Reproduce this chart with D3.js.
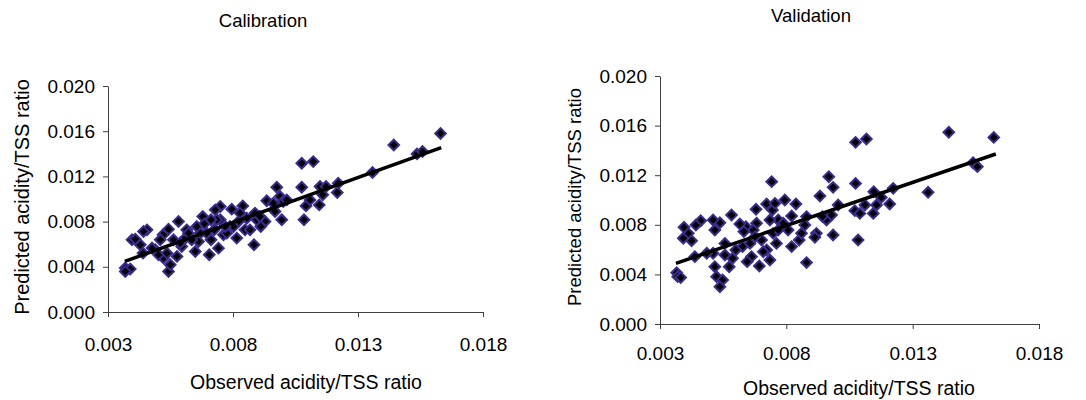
<!DOCTYPE html>
<html>
<head>
<meta charset="utf-8">
<script src="https://cdn.jsdelivr.net/npm/d3@7"></script>
<style>
  body { margin: 0; background: #fff; }
  text { font-family: Arial, "Liberation Sans", sans-serif; fill: #000; }
  .axis path, .axis line { stroke: #404040; }
</style>
</head>
<body>
<div id="chart"></div>
<script>
// tick labels shared by both panels
var xTicks = [0.003, 0.008, 0.013, 0.018]
var yTicks = [0.000, 0.004, 0.008, 0.012, 0.016, 0.020]

// Calibration: observed (x) vs predicted (y)
var calX = [0.0163, 0.01443, 0.01536, 0.01558, 0.01358, 0.01075, 0.01121, 0.01075, 0.01084, 0.01092,
            0.01108, 0.01148, 0.01172, 0.01159, 0.01145, 0.01221, 0.01217, 0.00975, 0.00988, 0.00995,
            0.01001, 0.00935, 0.00968, 0.00928, 0.00911, 0.00884, 0.00888, 0.00855, 0.00839, 0.00795,
            0.00822, 0.00815, 0.00848, 0.00788, 0.00749, 0.00729, 0.00749, 0.00762, 0.00742, 0.00725,
            0.00712, 0.00705, 0.00679, 0.00685, 0.00669, 0.00655, 0.00649, 0.00662, 0.00615, 0.00609,
            0.00582, 0.00595, 0.00576, 0.00562, 0.00542, 0.0052, 0.00509, 0.00522, 0.00542, 0.00549,
            0.00489, 0.00502, 0.00456, 0.00442, 0.0044, 0.00429, 0.00396, 0.00409, 0.00369, 0.00389,
            0.00369, 0.00635, 0.00695, 0.00735, 0.00775, 0.00802, 0.00868, 0.00895, 0.00961, 0.01015,
            0.00476, 0.00536, 0.00589, 0.00622, 0.00712, 0.00769, 0.00828, 0.00908]
var calY = [0.0158, 0.01478, 0.01399, 0.0142, 0.01234, 0.01316, 0.01331, 0.01104, 0.00816, 0.00939,
            0.00992, 0.0111, 0.0111, 0.01037, 0.00948, 0.0114, 0.01057, 0.01104, 0.01022, 0.00816,
            0.00978, 0.00984, 0.00889, 0.00801, 0.00757, 0.00595, 0.00875, 0.0083, 0.00939, 0.0091,
            0.00801, 0.00654, 0.00727, 0.00757, 0.00934, 0.00904, 0.00816, 0.00683, 0.00565, 0.00727,
            0.00639, 0.00507, 0.00845, 0.0078, 0.00698, 0.00757, 0.00536, 0.00624, 0.00727, 0.00654,
            0.00801, 0.0058, 0.00492, 0.00639, 0.00733, 0.00683, 0.00639, 0.00477, 0.00359, 0.00418,
            0.00551, 0.00507, 0.00727, 0.00713, 0.00521, 0.00595, 0.00639, 0.00645, 0.00389, 0.0038,
            0.00359, 0.00639, 0.00698, 0.00816, 0.00698, 0.00757, 0.00727, 0.00816, 0.00963, 0.00992,
            0.00566, 0.00521, 0.0061, 0.00698, 0.00816, 0.00757, 0.00875, 0.00845]
var calTrend = [[0.00367, 0.00448], [0.01633, 0.01455]]

// Validation: observed (x) vs predicted (y)
var valX = [0.01621, 0.01443, 0.01539, 0.01556, 0.01361, 0.01074, 0.01117, 0.01074, 0.01084, 0.01071,
            0.01091, 0.01111, 0.01144, 0.01146, 0.01157, 0.01176, 0.01223, 0.01209, 0.00968, 0.00985,
            0.00933, 0.00985, 0.01005, 0.00959, 0.00979, 0.00919, 0.00913, 0.0088, 0.0088, 0.00873,
            0.00851, 0.00838, 0.00821, 0.00821, 0.00794, 0.00807, 0.00768, 0.00761, 0.00742, 0.00745,
            0.00722, 0.00735, 0.00748, 0.00735, 0.00722, 0.00709, 0.00702, 0.00693, 0.00682, 0.0068,
            0.00669, 0.00662, 0.00656, 0.00645, 0.0064, 0.00616, 0.00627, 0.006, 0.00583, 0.00587,
            0.00574, 0.00557, 0.00557, 0.00537, 0.00524, 0.00548, 0.00537, 0.00517, 0.0051, 0.00517,
            0.0051, 0.00485, 0.00461, 0.00442, 0.00438, 0.00425, 0.00412, 0.00395, 0.00392, 0.00366,
            0.0037, 0.00382, 0.00632, 0.00755, 0.00768, 0.0086, 0.00943, 0.00788, 0.00676]
var valY = [0.01505, 0.01546, 0.01301, 0.01269, 0.01062, 0.01465, 0.01492, 0.01134, 0.00677, 0.00914,
            0.00892, 0.0096, 0.00892, 0.01067, 0.0096, 0.01021, 0.01094, 0.00968, 0.01188, 0.01102,
            0.01032, 0.00718, 0.0096, 0.00839, 0.00879, 0.00731, 0.00699, 0.00495, 0.00866, 0.00798,
            0.00677, 0.00968, 0.00871, 0.00624, 0.01, 0.00758, 0.00839, 0.0065, 0.01148, 0.00919,
            0.00968, 0.00839, 0.00731, 0.00516, 0.00597, 0.00583, 0.00677, 0.00468, 0.00812, 0.00925,
            0.00758, 0.00543, 0.0065, 0.00503, 0.00785, 0.00806, 0.00624, 0.00597, 0.00879, 0.0053,
            0.00462, 0.00556, 0.0065, 0.00817, 0.00382, 0.00355, 0.00301, 0.00462, 0.00839, 0.00758,
            0.0057, 0.0057, 0.00833, 0.00798, 0.00543, 0.00672, 0.00731, 0.0078, 0.00691, 0.00414,
            0.00382, 0.00374, 0.00745, 0.00973, 0.00758, 0.00731, 0.00866, 0.00812, 0.00704]
var valTrend = [[0.00363, 0.00489], [0.01629, 0.01371]]

var width = 1086
var height = 400

var svg = d3.select("#chart")
  .append("svg")
  .attr("width", width)
  .attr("height", height)

// each panel: where its plot area sits and where its texts go
var panels = [
  { title: "Calibration", xs: calX, ys: calY, trend: calTrend,
    left: 108, right: 483, top: 86, bottom: 312,
    titleX: 263, titleY: 27, xLabelX: 306, xLabelY: 389, yLabelX: 29, yLabelY: 197,
    xPad: 21, yLabelSize: 20 },
  { title: "Validation", xs: valX, ys: valY, trend: valTrend,
    left: 660, right: 1039, top: 76, bottom: 324,
    titleX: 811, titleY: 22, xLabelX: 859, xLabelY: 395, yLabelX: 581, yLabelY: 197,
    xPad: 18, yLabelSize: 18.5 }
]

panels.forEach(function(p) {
  var x = d3.scaleLinear().domain([0.003, 0.018]).range([p.left, p.right])
  var y = d3.scaleLinear().domain([0, 0.020]).range([p.bottom, p.top])

  var g = svg.append("g")

  // x axis
  g.append("g")
    .attr("class", "axis")
    .attr("transform", "translate(0," + p.bottom + ")")
    .call(d3.axisBottom(x)
      .tickValues(xTicks)
      .tickFormat(d3.format(".3f"))
      .tickSizeInner(5)
      .tickSizeOuter(0)
      .tickPadding(p.xPad))
    .attr("font-size", 19)
    .attr("font-family", null)

  // y axis
  g.append("g")
    .attr("class", "axis")
    .attr("transform", "translate(" + p.left + ",0)")
    .call(d3.axisLeft(y)
      .tickValues(yTicks)
      .tickFormat(d3.format(".3f"))
      .tickSizeInner(5)
      .tickSizeOuter(0)
      .tickPadding(8))
    .attr("font-size", 19)
    .attr("font-family", null)

  g.selectAll(".axis text").attr("fill", "#000")

  // points: black diamonds with an indigo rim
  var pts = p.xs.map(function(v, i) { return [v, p.ys[i]] })
  g.append("g")
    .selectAll("path")
    .data(pts)
    .join("path")
      .attr("transform", function(d) { return "translate(" + x(d[0]) + "," + y(d[1]) + ") rotate(45)" })
      .attr("d", d3.symbol().type(d3.symbolSquare).size(56))
      .attr("fill", "#000")
      .attr("stroke", "#3a2c8e")
      .attr("stroke-width", 2)

  // trend line
  g.append("path")
    .datum(p.trend)
    .attr("fill", "none")
    .attr("stroke", "#000")
    .attr("stroke-width", 3.5)
    .attr("d", d3.line().x(function(d) { return x(d[0]) }).y(function(d) { return y(d[1]) }))

  // titles
  g.append("text")
    .attr("x", p.titleX)
    .attr("y", p.titleY)
    .attr("text-anchor", "middle")
    .style("font-size", "18.5px")
    .text(p.title)

  g.append("text")
    .attr("x", p.xLabelX)
    .attr("y", p.xLabelY)
    .attr("text-anchor", "middle")
    .style("font-size", "19.5px")
    .text("Observed acidity/TSS ratio")

  g.append("text")
    .attr("transform", "translate(" + p.yLabelX + "," + p.yLabelY + ") rotate(-90)")
    .attr("text-anchor", "middle")
    .style("font-size", p.yLabelSize + "px")
    .text("Predicted acidity/TSS ratio")
})
</script>
</body>
</html>
